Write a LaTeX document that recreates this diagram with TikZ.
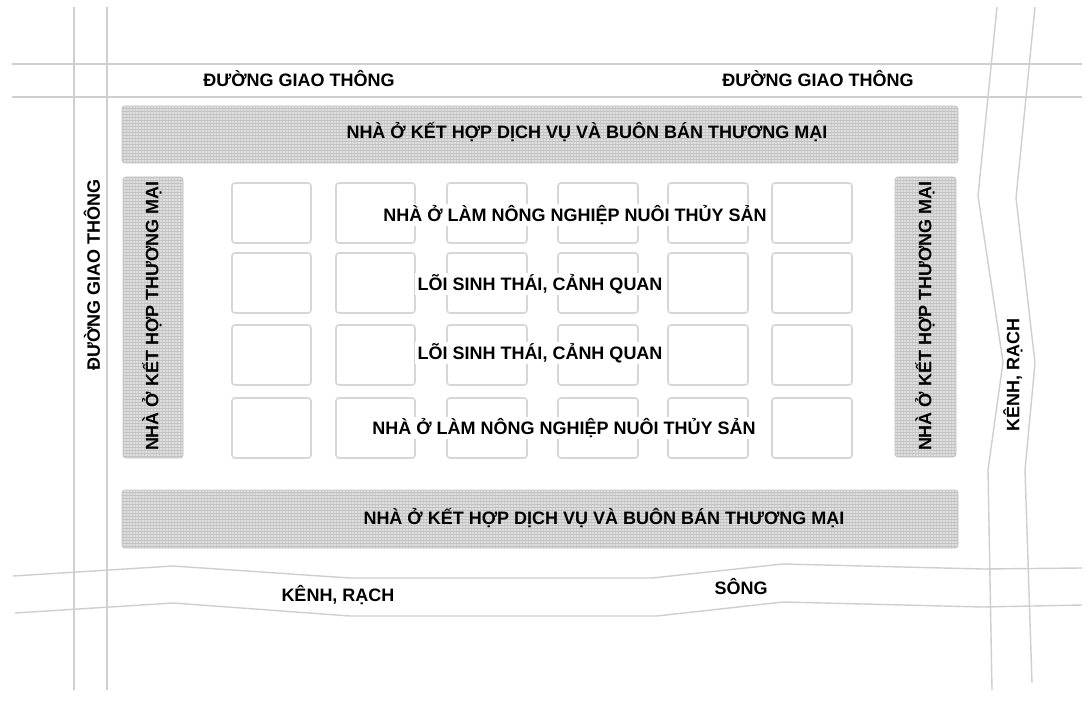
\documentclass[tikz,border=0pt]{standalone}
\usepackage{fontspec}
\setmainfont{Liberation Sans}
\definecolor{linegray}{HTML}{CFCFCF}
\definecolor{plotgray}{HTML}{D6D6D6}
\definecolor{bandfill}{HTML}{DEDEDE}
\definecolor{bandmesh}{HTML}{C2C2C2}
\definecolor{bandvmesh}{HTML}{CDCDCD}
\tikzset{
  road/.style={draw=linegray, line width=1.4pt, line join=round},
  plotbox/.style={draw=plotgray, line width=1.6pt, rounded corners=3pt, fill=white},
  lab/.style={font=\fontsize{18}{20}\selectfont\bfseries, inner sep=1.5pt, text=black},
  whitelab/.style={lab, fill=white, inner xsep=3pt},
}
\newcommand{\meshband}[4]{%
  \fill[bandfill, rounded corners=3pt] (#1,#2) rectangle (#3,#4);
  \begin{scope}
    \clip[rounded corners=3pt] (#1,#2) rectangle (#3,#4);
    \draw[bandvmesh, line width=0.7pt, xstep=3pt, ystep=1000pt] (#1,#2) grid (#3,#4);
    \draw[bandmesh, line width=0.8pt, xstep=1000pt, ystep=3pt] (#1,#2) grid (#3,#4);
  \end{scope}
  \draw[bandmesh, line width=0.8pt, rounded corners=3pt] (#1,#2) rectangle (#3,#4);
}
\begin{document}
\begin{tikzpicture}[x=1pt,y=-1pt]
\useasboundingbox (0,0) rectangle (1091,708);
\fill[white] (0,0) rectangle (1091,708);

% roads (top and left)
\draw[road] (12,64) -- (1082,64);
\draw[road] (12,97) -- (1082,97);
\draw[road] (74,7) -- (74,690);
\draw[road] (107,7) -- (107,690);

% canal on the right
\draw[road] (997,7) -- (978,196) -- (1003,362) -- (988,470) -- (992,690);
\draw[road] (1035,7) -- (1016,198) -- (1035,363) -- (1025,470) -- (1032,683);

% river / canal at the bottom
\draw[road] (13,576) -- (173,566) -- (350,578) -- (652,578) -- (783,564) -- (983,569) -- (1082,568);
\draw[road] (15,613) -- (173,603) -- (350,616) -- (657,616) -- (783,602) -- (983,607) -- (1082,605);

% bands
\meshband{122}{106}{958}{163}
\meshband{122}{490}{958}{548}
\meshband{123}{177}{183}{458}
\meshband{895}{177}{956}{457}

% plots
\foreach \xa/\xb in {232/311,336/415,447/527,558/638,668/748,772/852}{
  \foreach \ya/\yb in {183/243,253/313,325/385,398/458}{
    \draw[plotbox] (\xa,\ya) rectangle (\xb,\yb);
  }
}

% labels
\node[lab] (road1) at (299,79) {ĐƯỜNG GIAO THÔNG};
\node[lab] (road2) at (818,79) {ĐƯỜNG GIAO THÔNG};
\node[lab, rotate=90] (road3) at (92,275) {ĐƯỜNG GIAO THÔNG};
\node[lab] (topband) at (587,132) {NHÀ Ở KẾT HỢP DỊCH VỤ VÀ BUÔN BÁN THƯƠNG MẠI};
\node[lab] (botband) at (604,518) {NHÀ Ở KẾT HỢP DỊCH VỤ VÀ BUÔN BÁN THƯƠNG MẠI};
\node[lab, rotate=90] (leftband) at (152,316) {NHÀ Ở KẾT HỢP THƯƠNG MẠI};
\node[lab, rotate=90] (rightband) at (925,316) {NHÀ Ở KẾT HỢP THƯƠNG MẠI};
\node[whitelab] (row1) at (575,215) {NHÀ Ở LÀM NÔNG NGHIỆP NUÔI THỦY SẢN};
\node[whitelab] (row2) at (540,284) {LÕI SINH THÁI, CẢNH QUAN};
\node[whitelab] (row3) at (540,353) {LÕI SINH THÁI, CẢNH QUAN};
\node[whitelab] (row4) at (564,428) {NHÀ Ở LÀM NÔNG NGHIỆP NUÔI THỦY SẢN};
\node[lab, rotate=90] (canal1) at (1013,375) {KÊNH, RẠCH};
\node[lab] (canal2) at (338,595) {KÊNH, RẠCH};
\node[lab] (river) at (741,587) {SÔNG};
\end{tikzpicture}
\end{document}
